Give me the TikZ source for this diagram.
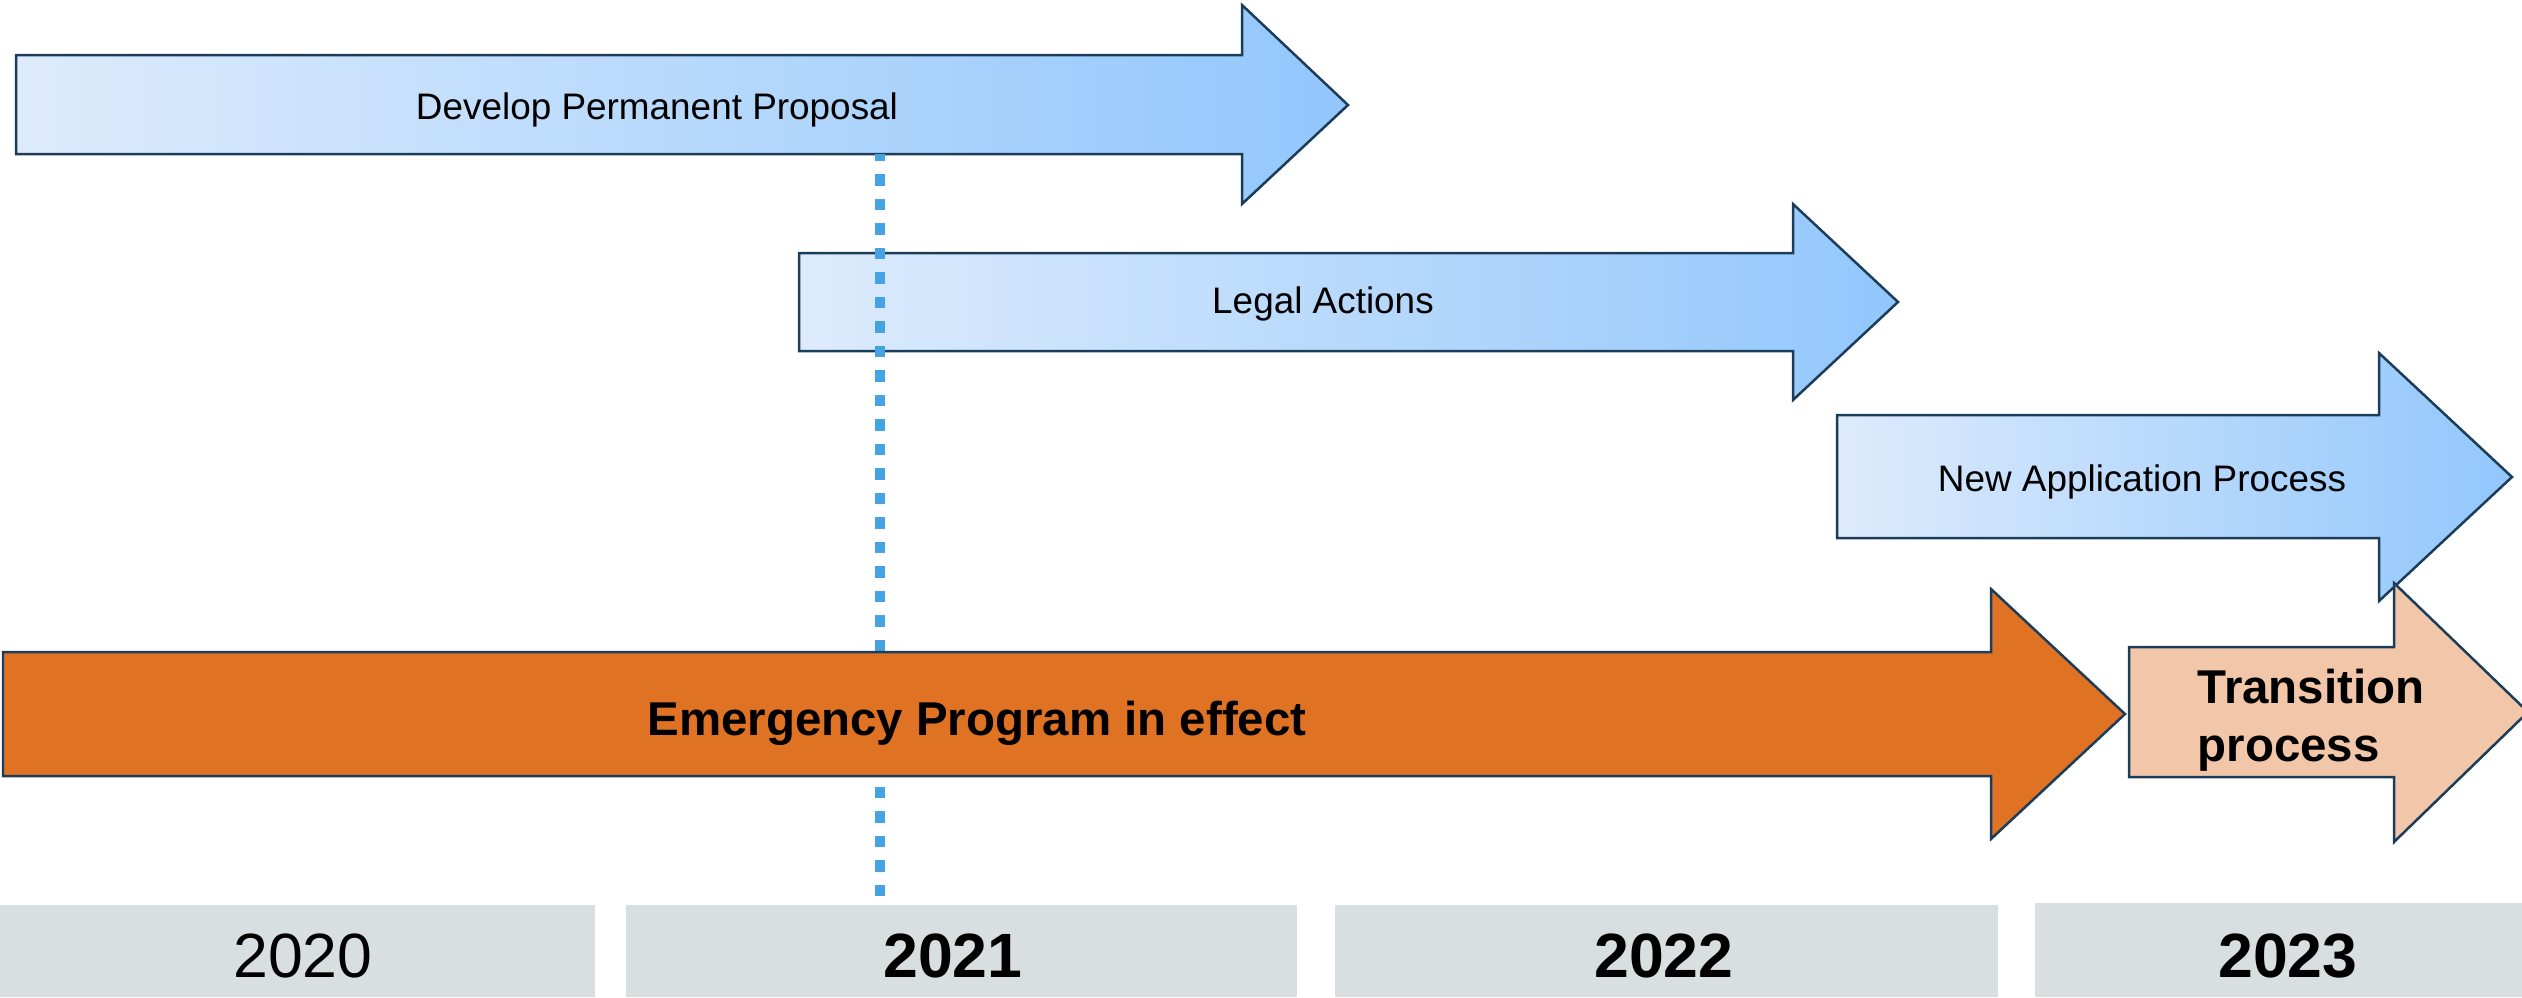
\documentclass[tikz,border=0pt]{standalone}
\usepackage{fontspec}
\setmainfont{Liberation Sans}

\definecolor{arrowline}{HTML}{1C3D5A}
\definecolor{bluelight}{HTML}{DDEBFC}
\definecolor{bluedark}{HTML}{92C7FC}
\definecolor{emergfill}{HTML}{E07224}
\definecolor{transfill}{HTML}{F2C6A8}
\definecolor{yearfill}{HTML}{D9DEE1}
\definecolor{markblue}{HTML}{44A3E3}

\tikzset{
  bluearrow/.style = {draw=arrowline, line width=0.25mm, left color=bluelight, right color=bluedark},
  solidarrow/.style = {draw=arrowline, line width=0.25mm},
  markline/.style = {draw=markblue, line width=1mm, dash pattern=on 1.15mm off 1.3mm},
  steptext/.style = {inner sep=0pt, anchor=base, font=\fontsize{10.5}{12.6}\selectfont},
  bigtext/.style = {inner sep=0pt, font=\fontsize{13.5}{16.5}\selectfont\bfseries},
  yeartext/.style = {inner sep=0pt, anchor=base, font=\fontsize{17.8}{21}\selectfont}
}

\begin{document}
\begin{tikzpicture}[%
        x = 0.1mm, y = -0.1mm
    ]
      \useasboundingbox (0,0) rectangle (2522,997);
      % upper arrows
      \draw [bluearrow] (16,55) -- (1242,55) -- (1242,5) -- (1348,105) -- (1242,204) -- (1242,154) -- (16,154) -- cycle;
      \draw [bluearrow] (799,253) -- (1793,253) -- (1793,204) -- (1898,302) -- (1793,400) -- (1793,351) -- (799,351) -- cycle;
      \draw [bluearrow] (1837,415) -- (2379,415) -- (2379,353) -- (2512,477) -- (2379,601) -- (2379,538) -- (1837,538) -- cycle;
      \node [steptext] (develop) at (657,119) {Develop Permanent Proposal};
      \node [steptext] (legal) at (1323,313) {Legal Actions};
      \node [steptext] (newapp) at (2142,491) {New Application Process};
      % marker for 2021
      \coordinate (marktop) at (880,154);
      \coordinate (markbot) at (880,896);
      \draw [markline] (markbot) -- (marktop);
      % lower arrows
      \draw [solidarrow, fill=emergfill] (3,652) -- (1991,652) -- (1991,589) -- (2125,714) -- (1991,839) -- (1991,776) -- (3,776) -- cycle;
      \draw [solidarrow, fill=transfill] (2129,647) -- (2394,647) -- (2394,583) -- (2528,712) -- (2394,842) -- (2394,777) -- (2129,777) -- cycle;
      \node [bigtext, anchor=base] (emerg) at (977,735) {Emergency Program in effect};
      \node [bigtext, anchor=north west, align=left] (trans) at (2197,668) {Transition\\process};
      % years
      \fill [yearfill] (0,905) rectangle (595,997);
      \fill [yearfill] (626,905) rectangle (1297,997);
      \fill [yearfill] (1335,905) rectangle (1998,997);
      \fill [yearfill] (2035,903) rectangle (2522,997);
      \node [yeartext] (y2020) at (303,977) {2020};
      \node [yeartext, font=\fontsize{17.8}{21}\selectfont\bfseries] (y2021) at (953,977) {2021};
      \node [yeartext, font=\fontsize{17.8}{21}\selectfont\bfseries] (y2022) at (1664,977) {2022};
      \node [yeartext, font=\fontsize{17.8}{21}\selectfont\bfseries] (y2023) at (2288,977) {2023};
    \end{tikzpicture}
\end{document}
